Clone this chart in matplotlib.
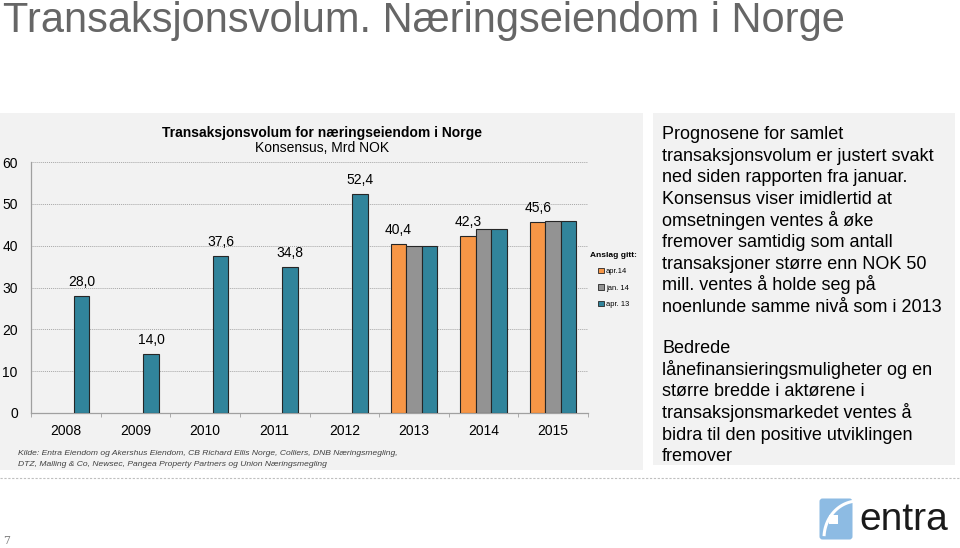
import numpy as np
import matplotlib
matplotlib.use("Agg")
import matplotlib.pyplot as plt
from matplotlib.patches import Rectangle, FancyBboxPatch

plt.rcParams['font.family'] = ['Liberation Sans', 'DejaVu Sans']

# ---------------- data ----------------
years = ["2008", "2009", "2010", "2011", "2012", "2013", "2014", "2015"]
series_names = ["apr.14", "jan. 14", "apr. 13"]
apr14 = [np.nan, np.nan, np.nan, np.nan, np.nan, 40.4, 42.3, 45.6]
jan14 = [np.nan, np.nan, np.nan, np.nan, np.nan, 40.0, 44.0, 46.0]
apr13 = [28.0, 14.0, 37.6, 34.8, 52.4, 40.0, 44.0, 46.0]
series_colors = ["#F79646", "#939393", "#31849B"]
yticks = [0, 10, 20, 30, 40, 50, 60]

page_title = "Transaksjonsvolum. Næringseiendom i Norge"
chart_title = "Transaksjonsvolum for næringseiendom i Norge"
chart_subtitle = "Konsensus, Mrd NOK"
source_lines = [
    "Kilde: Entra Eiendom og Akershus Eiendom, CB Richard Ellis Norge, Colliers, DNB Næringsmegling,",
    "DTZ, Malling & Co, Newsec, Pangea Property Partners og Union Næringsmegling",
]
para1 = [
    "Prognosene for samlet",
    "transaksjonsvolum er justert svakt",
    "ned siden rapporten fra januar.",
    "Konsensus viser imidlertid at",
    "omsetningen ventes å øke",
    "fremover samtidig som antall",
    "transaksjoner større enn NOK 50",
    "mill. ventes å holde seg på",
    "noenlunde samme nivå som i 2013",
]
para2 = [
    "Bedrede",
    "lånefinansieringsmuligheter og en",
    "større bredde i aktørene i",
    "transaksjonsmarkedet ventes å",
    "bidra til den positive utviklingen",
    "fremover",
]

W, H = 960, 548
fig = plt.figure(figsize=(W / 100, H / 100), dpi=100)
fig.patch.set_facecolor("white")

# background / decoration axes in pixel coordinates
bg = fig.add_axes([0, 0, 1, 1], zorder=0)
bg.set_xlim(0, W)
bg.set_ylim(H, 0)
bg.axis("off")

bg.add_patch(Rectangle((0, 113), 643, 357, facecolor="#F2F2F2", edgecolor="none"))
bg.add_patch(Rectangle((653, 113), 302, 352, facecolor="#F2F2F2", edgecolor="none"))
bg.plot([0, W], [478, 478], color="#BFBFBF", lw=0.8, ls=(0, (2, 1.5)))

bg.text(3, 32, page_title, fontsize=30, color="#666666", va="baseline", ha="left")

bg.text(322.5, 136.7, chart_title, fontsize=10, fontweight="bold", color="black",
        ha="center", va="baseline")
bg.text(322.5, 151.7, chart_subtitle, fontsize=10, color="black", ha="center", va="baseline")

for i, line in enumerate(source_lines):
    bg.text(18, 454.7 + 11.6 * i, line, fontsize=6.1, style="italic", color="#404040",
            ha="left", va="baseline")

for i, line in enumerate(para1):
    bg.text(662, 139.3 + 21.6 * i, line, fontsize=13, color="black", ha="left", va="baseline")
for i, line in enumerate(para2):
    bg.text(662, 353.3 + 21.6 * i, line, fontsize=13, color="black", ha="left", va="baseline")

# page number
bg.text(7, 541, "7", fontsize=8, color="#808080", family="DejaVu Serif", ha="center", va="center")

# logo
bg.add_patch(FancyBboxPatch((821, 500), 30, 38, boxstyle="round,pad=1.5,rounding_size=3",
                            facecolor="#8DBBE3", edgecolor="none"))
t = np.linspace(0.05, np.pi / 2 - 0.05, 40)
bg.plot(858 - 34 * np.cos(t), 538 - 37 * np.sin(t), color="white", lw=2.2,
        solid_capstyle="butt")
bg.add_patch(Rectangle((829, 515), 9, 9, facecolor="white", edgecolor="none"))
bg.text(859, 530, "entra", fontsize=28, color="#1a1a1a", ha="left", va="baseline")

# ---------------- chart ----------------
left, right, top, bottom = 31, 588, 162, 413
ax = fig.add_axes([left / W, 1 - bottom / H, (right - left) / W, (bottom - top) / H], zorder=2)
ax.patch.set_alpha(0)

x = np.arange(len(years))
bw = 0.223
offsets = [-bw, 0, bw]
all_series = [apr14, jan14, apr13]
bars = []
for vals, off, col, name in zip(all_series, offsets, series_colors, series_names):
    b = ax.bar(x + off, vals, width=bw, color=col, edgecolor="#262626", linewidth=0.8,
               label=name, zorder=3)
    bars.append(b)

# data labels: first available series in order apr14 -> apr13
for i in range(len(years)):
    if not np.isnan(apr14[i]):
        v, xo = apr14[i], x[i] + offsets[0]
    else:
        v, xo = apr13[i], x[i] + offsets[2]
    ax.annotate(f"{v:.1f}".replace(".", ","), (xo, v), xytext=(0, 5), textcoords="offset points",
                ha="center", va="bottom", fontsize=10, color="black")

ax.set_xlim(-0.5, len(years) - 0.5)
ax.set_ylim(0, 60)
ax.set_yticks(yticks)
ax.set_yticklabels([str(t) for t in yticks], fontsize=10)
ax.set_xticks(x)
ax.set_xticklabels(years, fontsize=10)
ax.set_xticks(np.arange(-0.5, len(years), 1.0), minor=True)
ax.tick_params(axis="x", which="major", length=0, pad=8)
ax.tick_params(axis="x", which="minor", length=3, color="#A0A0A0", direction="out")
ax.tick_params(axis="y", which="major", length=0, pad=9.5)
ax.grid(axis="y", color="#A6A6A6", ls=(0, (1, 1)), lw=0.7, zorder=1)
for s in ["top", "right"]:
    ax.spines[s].set_visible(False)
for s in ["left", "bottom"]:
    ax.spines[s].set_color("#A0A0A0")
    ax.spines[s].set_linewidth(0.9)

leg = ax.legend(handles=[b.patches[-1] for b in bars], labels=series_names,
                title="Anslag gitt:", loc="upper left",
                bbox_to_anchor=(590 / W, 1 - 252 / H), bbox_transform=fig.transFigure,
                frameon=False, fontsize=5.4, title_fontproperties={"weight": "bold", "size": 6},
                handlelength=0.75, handleheight=0.75, handletextpad=0.3, labelspacing=1.2,
                borderpad=0, borderaxespad=0)
for h in leg.legend_handles:
    h.set_linewidth(0.6)

fig.savefig("out.png", dpi=100, facecolor=fig.get_facecolor())
